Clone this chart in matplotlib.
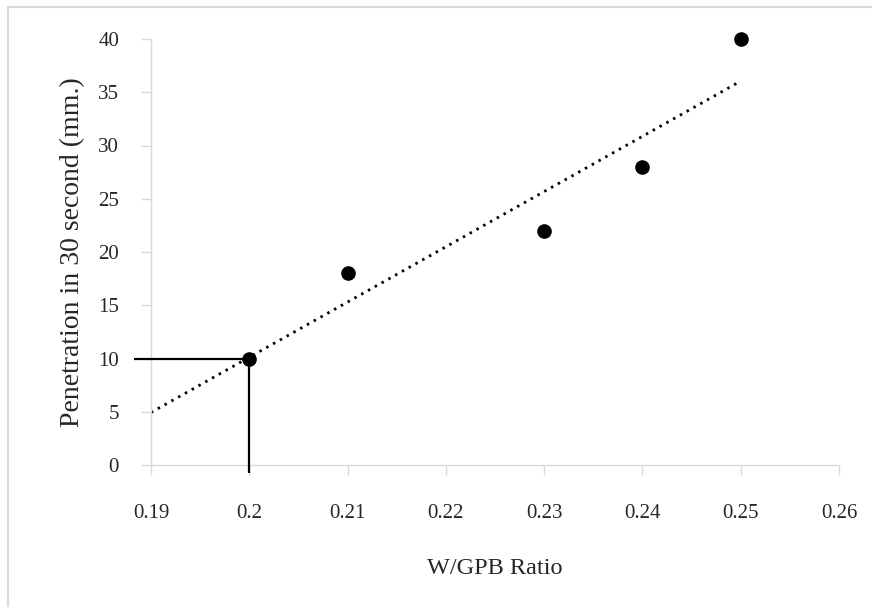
import matplotlib
matplotlib.use("Agg")
import matplotlib.pyplot as plt
import numpy as np
from matplotlib.lines import Line2D

# Data
wgpb_ratio = [0.20, 0.21, 0.23, 0.24, 0.25]
penetration = [10, 18, 22, 28, 40]
x_ticks = [0.19, 0.20, 0.21, 0.22, 0.23, 0.24, 0.25, 0.26]
x_tick_labels = ["0.19", "0.2", "0.21", "0.22", "0.23", "0.24", "0.25", "0.26"]
y_ticks = [0, 5, 10, 15, 20, 25, 30, 35, 40]
target_x = 0.20
target_y = 10

plt.rcParams['font.family'] = ['Liberation Serif', 'DejaVu Serif']

W, H = 872, 607
fig = plt.figure(figsize=(W / 100, H / 100), dpi=100)
ax = fig.add_axes([151 / W, 1 - 465 / H, 688 / W, 426 / H])

# Trendline (linear fit, backward forecast to 0.19)
slope, intercept = np.polyfit(wgpb_ratio, penetration, 1)
tx = np.array([0.19, 0.25])
ax.plot(tx, slope * tx + intercept, color='black', linewidth=2.0,
        linestyle=(0, (0.9, 1.9)), zorder=2)

# Reference lines
ax.plot([0.19 - 0.0017, target_x], [target_y, target_y], color='black',
        linewidth=1.6, clip_on=False, zorder=3, solid_capstyle='butt')
ax.plot([target_x, target_x], [target_y, -0.75], color='black',
        linewidth=1.6, clip_on=False, zorder=3, solid_capstyle='butt')

# Points
ax.plot(wgpb_ratio, penetration, 'o', color='black', markersize=9.5, zorder=4,
        clip_on=False)

ax.set_xlim(0.19, 0.26)
ax.set_ylim(0, 40)
ax.set_xticks(x_ticks)
ax.set_xticklabels(x_tick_labels)
ax.set_yticks(y_ticks)

for s in ['top', 'right']:
    ax.spines[s].set_visible(False)
for s in ['left', 'bottom']:
    ax.spines[s].set_color('#d9d9d9')
    ax.spines[s].set_linewidth(1.0)

ax.tick_params(axis='both', colors='#d9d9d9', labelcolor='#262626',
               labelsize=15, length=7, width=1.0, direction='out')
ax.tick_params(axis='y', pad=16)
ax.tick_params(axis='x', pad=21)

ax.set_xlabel('W/GPB Ratio', fontsize=17.5, color='#262626', labelpad=25)
ax.set_ylabel('Penetration in 30 second (mm.)', fontsize=20, color='#262626',
              labelpad=9)

# Chart area border (left and top visible)
fig.add_artist(Line2D([8 / W, 8 / W, 1.0], [0.0, 1 - 6.5 / H, 1 - 6.5 / H],
                      transform=fig.transFigure, color='#d9d9d9', linewidth=1.5))

fig.savefig('out.png', dpi=100)
